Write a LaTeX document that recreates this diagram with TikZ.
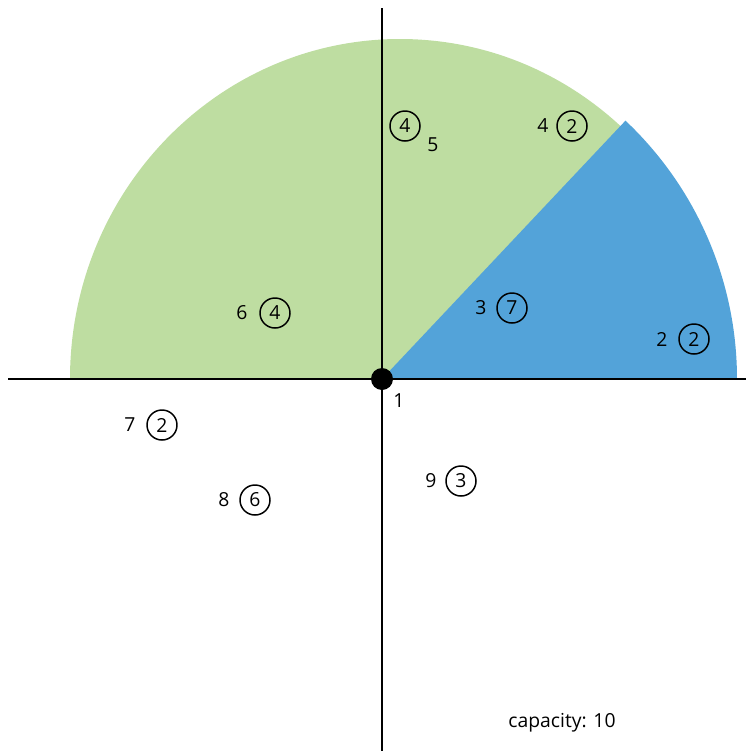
\documentclass[tikz,border=0pt]{standalone}
\usepackage{fontspec}
\setmainfont{Open Sans}
\usetikzlibrary{positioning}
\definecolor{leafgreen}{RGB}{190,221,161}
\definecolor{skyblue}{RGB}{83,163,217}
\tikzset{
    num/.style={font=\fontsize{11}{13}\selectfont, inner sep=0pt},
    ring/.style={num, circle, draw=black, line width=0.85pt, minimum size=0.6cm},
    axis/.style={line width=1.1pt, black},
    origin/.style={circle, fill=black, inner sep=0pt, minimum size=0.44cm}
}
\begin{document}
\begin{tikzpicture}[x=0.02cm, y=-0.02cm]
    \useasboundingbox (0,0) rectangle (746,751);
    % filled regions
    \fill[leafgreen] (70,379) arc[start angle=180, end angle=360, x radius=330, y radius=340] -- cycle;
    \fill[skyblue] (382,379) -- (737,379) arc[start angle=0, end angle=-46.7, radius=355] -- cycle;
    % axes
    \coordinate (west) at (8,379);
    \coordinate (east) at (746,379);
    \coordinate (north) at (382,8);
    \coordinate (south) at (382,751);
    \draw[axis] (west) -- (east);
    \draw[axis] (north) -- (south);
    \node[origin] (o) at (382,379) {};
    \node[num] (n1) at (399,401) {1};
    % points and weights
    \node[ring] (w5) at (405,126) {4};
    \node[num] (n5) at (433,145) {5};
    \node[num] (n4) at (543,126) {4};
    \node[ring] (w4) at (572,126) {2};
    \node[num] (n6) at (242,313) {6};
    \node[ring] (w6) at (275,313) {4};
    \node[num] (n3) at (481,308) {3};
    \node[ring] (w3) at (512,308) {7};
    \node[num] (n2) at (662,339) {2};
    \node[ring] (w2) at (694,339) {2};
    \node[num] (n7) at (130,425) {7};
    \node[ring] (w7) at (162,425) {2};
    \node[num] (n8) at (224,500) {8};
    \node[ring] (w8) at (255,500) {6};
    \node[num] (n9) at (431,481) {9};
    \node[ring] (w9) at (461,481) {3};
    \node[num] (cap) at (562,723) {capacity: 10};
\end{tikzpicture}
\end{document}
